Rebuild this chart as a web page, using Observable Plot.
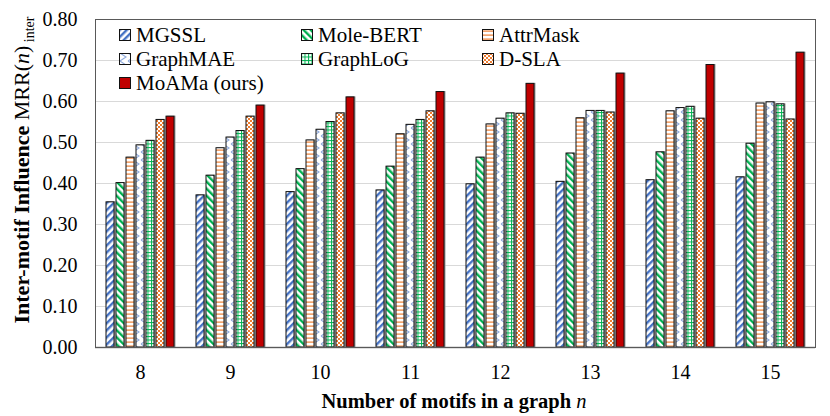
<!DOCTYPE html>
<html><head><meta charset="utf-8">
<script src="https://cdn.jsdelivr.net/npm/d3@7"></script>
<script src="https://cdn.jsdelivr.net/npm/@observablehq/plot@0.6"></script>
<style>
body{margin:0;background:#fff;}
#wrap{position:relative;width:830px;height:416px;font-family:"Liberation Serif","Times New Roman",serif;color:#000;}
#legend{position:absolute;left:119px;top:23px;display:grid;grid-template-columns:182px 181px auto;grid-auto-rows:24px;font-size:21px;line-height:24px;}
#legend .it{display:flex;align-items:center;white-space:nowrap;}
#legend svg{margin-right:5px;flex:none;}
g[aria-label="bar"] rect{filter:drop-shadow(1.4px 0.6px 0px #9a9a9a);}
</style></head><body>
<svg id="defs" width="0" height="0" style="position:absolute"></svg>
<div id="wrap"><div id="legend"></div></div>
<script>
const groups = [8, 9, 10, 11, 12, 13, 14, 15];
const methods = ["MGSSL", "Mole-BERT", "AttrMask", "GraphMAE", "GraphLoG", "D-SLA", "MoAMa (ours)"];
const MGSSL     = [0.354, 0.371, 0.379, 0.383, 0.398, 0.404, 0.408, 0.415];
const MoleBERT  = [0.401, 0.419, 0.435, 0.441, 0.463, 0.473, 0.476, 0.497];
const AttrMask  = [0.463, 0.486, 0.505, 0.520, 0.544, 0.559, 0.576, 0.595];
const GraphMAE  = [0.493, 0.512, 0.531, 0.543, 0.558, 0.577, 0.584, 0.598];
const GraphLoG  = [0.504, 0.528, 0.550, 0.555, 0.571, 0.577, 0.587, 0.593];
const DSLA      = [0.555, 0.563, 0.571, 0.576, 0.570, 0.573, 0.558, 0.556];
const MoAMa     = [0.563, 0.590, 0.610, 0.623, 0.643, 0.668, 0.689, 0.719];
const yTicks = [0, 0.1, 0.2, 0.3, 0.4, 0.5, 0.6, 0.7, 0.8];

const series = [MGSSL, MoleBERT, AttrMask, GraphMAE, GraphLoG, DSLA, MoAMa];
const data = [];
groups.forEach((n, i) => methods.forEach((m, j) => data.push({n, method: m, value: series[j][i]})));

// patterns
const defs = d3.select("#defs").append("defs");
const blue = "#4472C4", green = "#00B050", orange = "#ED7D31", lblue = "#8FAADC", red = "#C00000";
function pat(id, w, h, tr) {
  const p = defs.append("pattern").attr("id", id).attr("patternUnits", "userSpaceOnUse").attr("width", w).attr("height", h);
  if (tr) p.attr("patternTransform", tr);
  p.append("rect").attr("width", w).attr("height", h).attr("fill", "#fff");
  return p;
}
let p;
p = pat("p0", 5, 5, "rotate(45)"); p.append("rect").attr("width", 2.4).attr("height", 5).attr("fill", blue);
p = pat("p1", 5, 5, "rotate(-45)"); p.append("rect").attr("width", 2.4).attr("height", 5).attr("fill", green);
p = pat("p2", 4, 4); p.append("rect").attr("y", 1.5).attr("width", 4).attr("height", 1.2).attr("fill", orange);
p = pat("p3", 8, 8); p.append("path").attr("d", "M1,0 L7,4 L1,8").attr("fill", "none").attr("stroke", lblue).attr("stroke-width", 1.1);
p = pat("p4", 3.5, 3.5); p.append("rect").attr("width", 3.5).attr("height", 1).attr("fill", green); p.append("rect").attr("width", 1).attr("height", 3.5).attr("fill", green);
p = pat("p5", 4, 4); p.append("rect").attr("width", 2).attr("height", 2).attr("fill", orange); p.append("rect").attr("x", 2).attr("y", 2).attr("width", 2).attr("height", 2).attr("fill", orange);
const fills = ["url(#p0)", "url(#p1)", "url(#p2)", "url(#p3)", "url(#p4)", "url(#p5)", red];

const chart = Plot.plot({
  width: 830, height: 416,
  marginLeft: 91, marginRight: 12, marginTop: 19, marginBottom: 69,
  style: {fontFamily: '"Liberation Serif","Times New Roman",serif', fontSize: "20px", color: "#000", background: "transparent", overflow: "visible"},
  fx: {domain: groups, padding: 0, label: null, axis: "bottom", tickSize: 0, tickPadding: 17},
  x: {domain: methods, paddingInner: 0.16, paddingOuter: 0.82, axis: null},
  y: {domain: [0, 0.8], ticks: yTicks, tickFormat: d3.format(".2f"), tickSize: 0, tickPadding: 18, label: null},
  color: {domain: methods, range: fills},
  marks: [
    Plot.gridY(yTicks, {stroke: "#d9d9d9", strokeOpacity: 1, strokeWidth: 1}),
    Plot.barY(data, {fx: "n", x: "method", y: "value", fill: "method", stroke: "#111", strokeWidth: 1}),
    Plot.ruleY([0], {stroke: "#7f7f7f", strokeWidth: 1.5}),
    Plot.frame({facet: "super", stroke: "#595959", strokeWidth: 1})
  ]
});
document.getElementById("wrap").prepend(chart);
chart.style.position = "absolute"; chart.style.left = "0"; chart.style.top = "0";

const svg = d3.select(chart);
const yt = svg.append("text").attr("transform", "translate(29,170) rotate(-90)").attr("text-anchor", "middle")
  .attr("font-size", 22).attr("fill", "#000");
yt.append("tspan").attr("font-weight", "bold").text("Inter-motif Influence ");
yt.append("tspan").text("MRR(");
yt.append("tspan").attr("font-style", "italic").text("n");
yt.append("tspan").text(")");
yt.append("tspan").attr("font-size", 14).attr("dy", 5).text(" inter");

const xt = svg.append("text").attr("x", 454).attr("y", 408).attr("text-anchor", "middle").attr("font-size", 20.5).attr("fill", "#000");
xt.append("tspan").attr("font-weight", "bold").text("Number of motifs in a graph ");
xt.append("tspan").attr("font-style", "italic").text("n");

// legend
const lg = d3.select("#legend");
methods.forEach((m, j) => {
  const it = lg.append("div").attr("class", "it");
  const s = it.append("svg").attr("width", 12).attr("height", 12);
  s.append("rect").attr("x", 0.5).attr("y", 0.5).attr("width", 11).attr("height", 11).attr("fill", fills[j]).attr("stroke", "#111");
  it.append("span").text(m);
});
</script></body></html>
